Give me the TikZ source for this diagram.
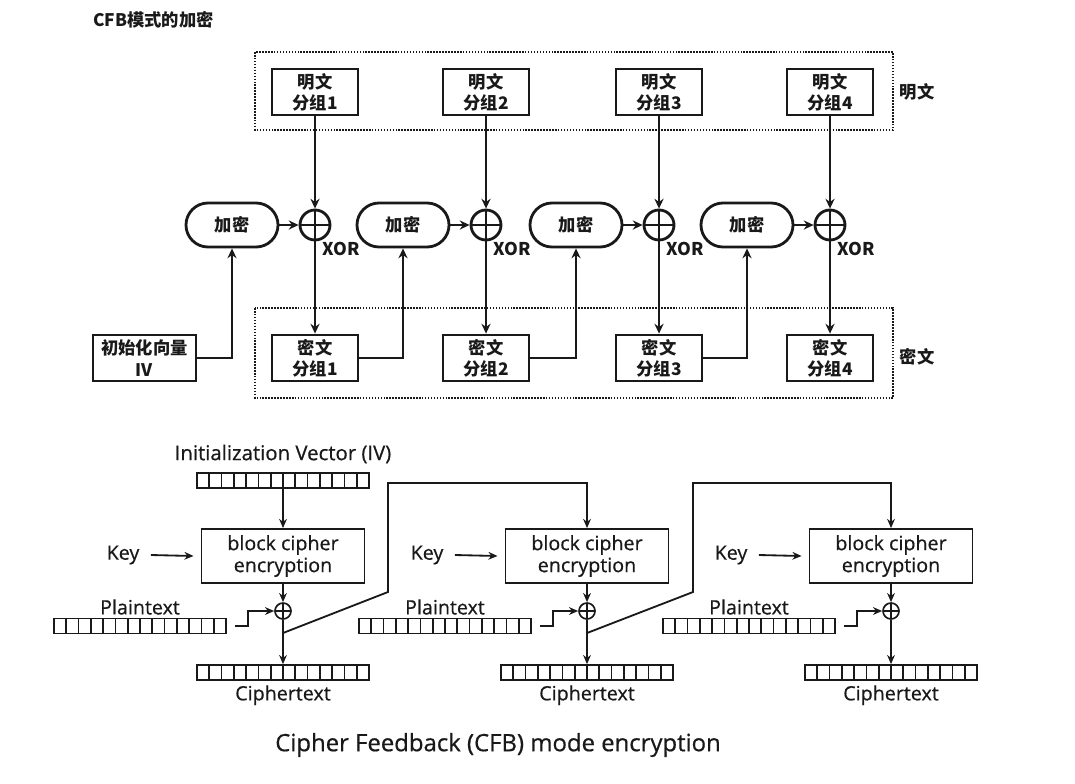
\documentclass[tikz,border=0pt]{standalone}
\usepackage{fontspec}
\setmainfont{Open Sans}[FakeBold=0.6]
\newfontfamily\cjk{Noto Sans CJK SC}
\usetikzlibrary{arrows.meta,calc,positioning}

\tikzstyle{every node}=[inner sep=0pt]
\tikzstyle{cjkfont}=[font={\cjk\bfseries\fontsize{12.3}{15}\selectfont}]
\tikzstyle{group}=[cjkfont,draw,line width=2pt,minimum width=2.15cm,minimum height=1.15cm,align=center]
\tikzstyle{encrypt}=[cjkfont,draw,line width=2pt,minimum width=2.3cm,minimum height=1.1cm,rounded corners=0.55cm]
\tikzstyle{xorc}=[draw,circle,line width=2pt,minimum size=0.75cm,
	path picture={\draw[line width=2pt] (path picture bounding box.north) -- (path picture bounding box.south)
		(path picture bounding box.west) -- (path picture bounding box.east);}]
\tikzstyle{arrt}=[line width=1.8pt,-{Stealth[length=7pt,width=6.5pt]}]
\tikzstyle{dotbox}=[line width=1.1pt,densely dotted]
\tikzstyle{lab}=[font=\fontsize{14}{15.6}\selectfont]
\tikzstyle{register}=[draw,line width=1.2pt,minimum width=4.3cm,minimum height=0.375cm,
	path picture={\foreach \k in {1,...,13}
		\draw[line width=1.2pt] ($(path picture bounding box.south west)!\k/14!(path picture bounding box.south east)$)
		-- ($(path picture bounding box.north west)!\k/14!(path picture bounding box.north east)$);}]
\tikzstyle{cipherbox}=[lab,draw,line width=1.3pt,minimum width=4.075cm,minimum height=1.35cm,align=center]
\tikzstyle{xors}=[draw,circle,line width=1.2pt,minimum size=0.4cm,
	path picture={\draw[line width=1.2pt] (path picture bounding box.north) -- (path picture bounding box.south)
		(path picture bounding box.west) -- (path picture bounding box.east);}]
\tikzstyle{arrb}=[line width=1.3pt,-{Stealth[length=6.5pt,width=5.5pt]}]

\begin{document}
\begin{tikzpicture}[x=0.025cm, y=-0.025cm, color=black!90]
	\useasboundingbox (0,0) rectangle (1075,783);
	%title
	\node[cjkfont,anchor=west] (title) at (93,20) {CFB模式的加密};
	%groups
	\draw[dotbox] (255,52) rectangle (893,130);
	\draw[dotbox] (255,308) rectangle (893,398);
	\node[cjkfont] (plainlab) at (917,92) {明文};
	\node[cjkfont] (cipherlab) at (917,357) {密文};
	\node[group,minimum width=2.575cm] (iv) at (144.5,358) {初始化向量\\IV};
	%columns
	\foreach \i/\x in {1/315,2/486,3/659,4/830}
	{
		\node[group] (p\i) at (\x,92) {明文\\分组\i};
		\node[xorc] (x\i) at (\x,225) {};
		\node[encrypt] (e\i) at (\x-83,225) {加密};
		\node[cjkfont,font={\cjk\bfseries\fontsize{12.5}{14}\selectfont},anchor=west] (xl\i) at (\x+7,249) {XOR};
		\node[group] (c\i) at (\x,358) {密文\\分组\i};
		\draw[arrt] (p\i) -- (x\i);
		\draw[arrt] (e\i) -- (x\i);
		\draw[arrt] (x\i) -- (c\i);
	}
	%feedback
	\draw[arrt] (iv.east) -| (e1.south);
	\draw[arrt] (c1.east) -| (e2.south);
	\draw[arrt] (c2.east) -| (e3.south);
	\draw[arrt] (c3.east) -| (e4.south);
	
	%english version
	\node[lab,font=\fontsize{14.5}{16}\selectfont] (ivtext) at (283,454) {Initialization Vector (IV)};
	\node[register] (ivreg) at (283,480.5) {};
	\foreach \i/\x/\px in {1/283/140,2/587/445,3/891/749}
	{
		\node[cipherbox] (bc\i) at (\x,556) {block cipher\\encryption};
		\node[lab] (key\i) at (\x-160,555) {Key};
		\node[xors] (xs\i) at (\x,611) {};
		\node[register] (pt\i) at (\px,626) {};
		\node[lab,above=2pt of pt\i] (ptlab\i) {Plaintext};
		\node[register] (ct\i) at (\x,672.5) {};
		\node[lab,below=3pt of ct\i] (ctlab\i) {Ciphertext};
		\draw[arrb] ([xshift=8pt]key\i.east) -- ([xshift=-5pt]bc\i.west);
		\draw[arrb] (bc\i) -- (xs\i);
		\draw[arrb] (xs\i) -- (ct\i);
		\draw[arrb] ([xshift=6pt]pt\i.east) -- ++(13,0) |- (xs\i.west);
		\coordinate (fb\i) at (\x,633);
	}
	\draw[arrb] (ivreg) -- (bc1);
	\draw[arrb] (fb1) -- ++(105,-41) -- ++(0,-109) -| (bc2.north);
	\draw[arrb] (fb2) -- ++(106,-41) -- ++(0,-109) -| (bc3.north);
	\node[font=\fontsize{17}{19}\selectfont] (caption) at (498,745) {Cipher Feedback (CFB) mode encryption};
\end{tikzpicture}
\end{document}
